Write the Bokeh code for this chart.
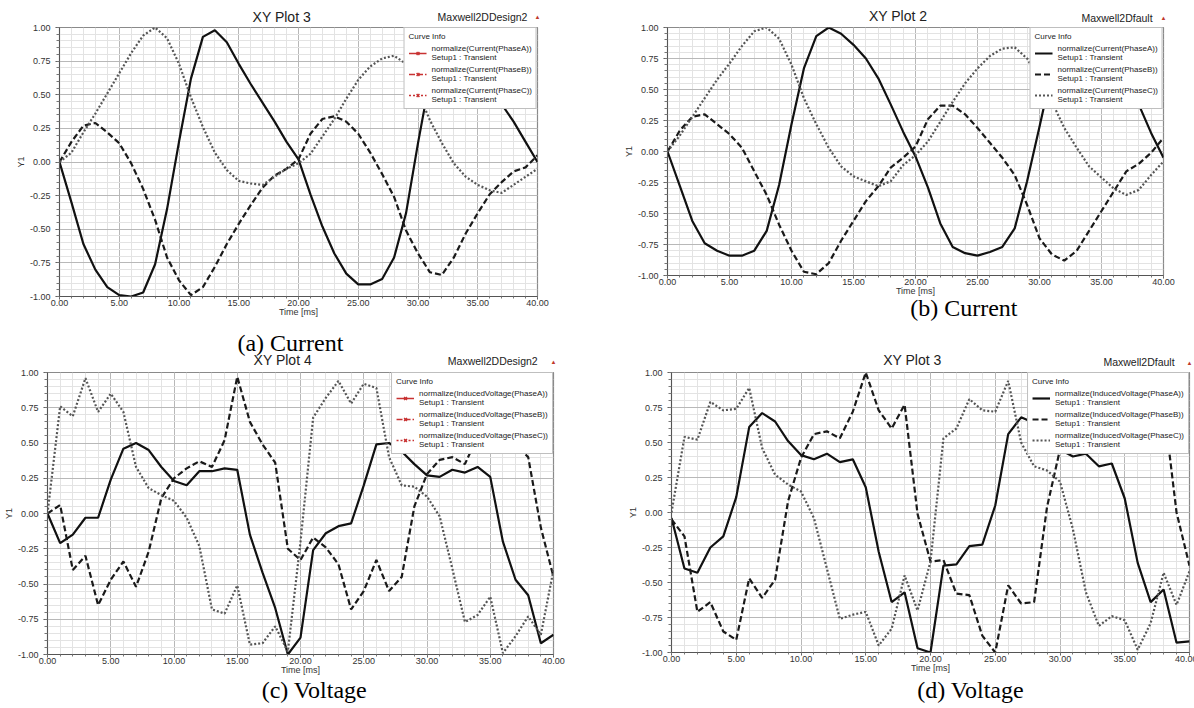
from bokeh.plotting import figure
from bokeh.layouts import column, row
from bokeh.models import (Range1d, FixedTicker, NumeralTickFormatter, Legend,
                          LegendItem, LinearAxis)
from bokeh.embed import file_html
from bokeh.resources import INLINE

# ---------------- data ----------------
time_ms = list(range(41))

# (a) Current - Maxwell2DDesign2
cur_a_A = [0.00, -0.30, -0.61, -0.80, -0.93, -0.99, -1.00, -0.97, -0.76, -0.35, 0.15, 0.62, 0.93, 0.98, 0.89, 0.73,
           0.58, 0.44, 0.30, 0.15, 0.02, -0.24, -0.48, -0.68, -0.83, -0.91, -0.91, -0.87, -0.71, -0.38, 0.14, 0.62,
           0.88, 0.97, 0.90, 0.75, 0.60, 0.43, 0.30, 0.15, 0.00]
cur_a_B = [0.00, 0.15, 0.27, 0.29, 0.22, 0.14, -0.01, -0.20, -0.43, -0.71, -0.88, -0.99, -0.93, -0.78, -0.61, -0.46,
           -0.32, -0.19, -0.10, -0.05, 0.02, 0.21, 0.32, 0.34, 0.30, 0.21, 0.07, -0.09, -0.26, -0.51, -0.68, -0.82,
           -0.84, -0.71, -0.53, -0.38, -0.24, -0.15, -0.07, -0.04, 0.05]
cur_a_C = [0.00, 0.07, 0.22, 0.36, 0.51, 0.66, 0.81, 0.94, 1.00, 0.92, 0.73, 0.48, 0.26, 0.07, -0.06, -0.14,
           -0.16, -0.17, -0.11, -0.05, -0.01, 0.06, 0.19, 0.32, 0.47, 0.61, 0.71, 0.77, 0.79, 0.73, 0.52, 0.31,
           0.14, -0.01, -0.11, -0.17, -0.21, -0.23, -0.17, -0.11, -0.05]

# (b) Current - Maxwell2Dfault
cur_b_A = [0.00, -0.28, -0.56, -0.74, -0.80, -0.84, -0.84, -0.80, -0.64, -0.27, 0.22, 0.67, 0.93, 1.00, 0.95, 0.86,
           0.75, 0.59, 0.38, 0.16, -0.04, -0.29, -0.58, -0.77, -0.82, -0.84, -0.81, -0.77, -0.62, -0.24, 0.20, 0.65,
           0.90, 0.98, 0.93, 0.83, 0.70, 0.57, 0.38, 0.15, -0.05]
cur_b_B = [0.00, 0.17, 0.28, 0.30, 0.22, 0.14, 0.03, -0.16, -0.35, -0.59, -0.80, -0.97, -0.99, -0.90, -0.72, -0.56,
           -0.40, -0.28, -0.13, -0.05, 0.04, 0.26, 0.37, 0.37, 0.30, 0.19, 0.07, -0.05, -0.19, -0.43, -0.70, -0.83,
           -0.88, -0.80, -0.64, -0.48, -0.32, -0.16, -0.10, -0.01, 0.11]
cur_b_C = [0.00, 0.13, 0.28, 0.43, 0.58, 0.71, 0.85, 0.97, 1.00, 0.91, 0.70, 0.43, 0.22, 0.03, -0.12, -0.20,
           -0.24, -0.28, -0.24, -0.11, -0.03, 0.08, 0.24, 0.40, 0.55, 0.67, 0.77, 0.83, 0.84, 0.75, 0.58, 0.40,
           0.19, 0.03, -0.12, -0.21, -0.30, -0.35, -0.31, -0.19, -0.08]

# (c) Voltage - Maxwell2DDesign2
vol_c_A = [0.00, -0.21, -0.15, -0.03, -0.03, 0.24, 0.46, 0.50, 0.45, 0.33, 0.23, 0.20, 0.30, 0.30, 0.32, 0.31,
           -0.15, -0.42, -0.67, -1.00, -0.88, -0.26, -0.14, -0.09, -0.07, 0.20, 0.49, 0.50, 0.44, 0.35, 0.27, 0.26,
           0.31, 0.29, 0.33, 0.26, -0.20, -0.47, -0.58, -0.92, -0.86]
vol_c_B = [0.00, 0.06, -0.40, -0.30, -0.65, -0.47, -0.34, -0.52, -0.27, 0.11, 0.25, 0.32, 0.37, 0.33, 0.52, 0.97,
           0.65, 0.49, 0.36, -0.25, -0.33, -0.17, -0.24, -0.36, -0.68, -0.55, -0.33, -0.55, -0.45, 0.05, 0.28, 0.38,
           0.40, 0.35, 0.55, 0.97, 0.65, 0.49, 0.40, -0.10, -0.45]
vol_c_C = [0.00, 0.76, 0.69, 0.96, 0.72, 0.85, 0.72, 0.33, 0.18, 0.13, 0.09, -0.03, -0.23, -0.68, -0.71, -0.51,
           -0.93, -0.92, -0.80, -0.98, -0.20, 0.68, 0.82, 0.94, 0.78, 0.92, 0.89, 0.40, 0.20, 0.19, 0.12, -0.02,
           -0.39, -0.77, -0.72, -0.59, -0.99, -0.87, -0.73, -0.86, -0.40]

# (d) Voltage - Maxwell2Dfault
vol_d_A = [-0.04, -0.40, -0.43, -0.25, -0.17, 0.11, 0.61, 0.71, 0.65, 0.51, 0.41, 0.38, 0.42, 0.36, 0.38, 0.18,
           -0.28, -0.64, -0.57, -0.97, -1.00, -0.38, -0.37, -0.24, -0.23, 0.05, 0.56, 0.68, 0.64, 0.52, 0.45, 0.40,
           0.42, 0.33, 0.35, 0.10, -0.36, -0.64, -0.55, -0.93, -0.92]
vol_d_B = [-0.05, -0.17, -0.71, -0.64, -0.85, -0.91, -0.47, -0.61, -0.48, 0.08, 0.39, 0.56, 0.58, 0.53, 0.72, 1.00,
           0.73, 0.60, 0.77, -0.01, -0.35, -0.34, -0.58, -0.59, -0.88, -1.00, -0.52, -0.65, -0.64, 0.04, 0.45, 0.56,
           0.58, 0.53, 0.72, 1.00, 0.73, 0.60, 0.77, 0.00, -0.38]
vol_d_C = [0.00, 0.54, 0.52, 0.79, 0.73, 0.74, 0.89, 0.46, 0.27, 0.20, 0.15, -0.04, -0.40, -0.76, -0.73, -0.71,
           -0.95, -0.83, -0.45, -0.70, -0.35, 0.53, 0.60, 0.81, 0.73, 0.72, 0.94, 0.50, 0.33, 0.30, 0.22, -0.12,
           -0.57, -0.81, -0.74, -0.77, -0.98, -0.79, -0.43, -0.66, -0.42]

x_major = [0, 5, 10, 15, 20, 25, 30, 35, 40]
x_minor = list(range(0, 41))
y_major = [-1.0, -0.75, -0.5, -0.25, 0.0, 0.25, 0.5, 0.75, 1.0]
y_minor = [round(-1.0 + 0.05 * i, 2) for i in range(41)]

cur_labels = ["normalize(Current(PhaseA))", "normalize(Current(PhaseB))", "normalize(Current(PhaseC))"]
vol_labels = ["normalize(InducedVoltage(PhaseA))", "normalize(InducedVoltage(PhaseB))",
              "normalize(InducedVoltage(PhaseC))"]
setup_text = "Setup1 : Transient"

SANS = "Liberation Sans"
SERIF = "Liberation Serif"
LOGO = "\u25b2"


def text_axis(p, side, pos, text, font, size, color, standoff):
    """A bare axis carrying a single text label (titles / captions outside the frame)."""
    ax = LinearAxis(ticker=FixedTicker(ticks=[pos]), major_label_overrides={pos: text})
    ax.axis_line_color = None
    ax.major_tick_line_color = None
    ax.minor_tick_line_color = None
    ax.major_tick_out = 0
    ax.major_tick_in = 0
    ax.minor_tick_out = 0
    ax.minor_tick_in = 0
    ax.major_label_standoff = standoff
    ax.major_label_text_font = font
    ax.major_label_text_font_size = size
    ax.major_label_text_color = color
    p.add_layout(ax, side)


def make_panel(w, h, fl, ft, fw, fh, A, B, C, labels, red_legend, above, below):
    p = figure(frame_width=fw, frame_height=fh,
               min_border_left=fl, min_border_top=ft,
               min_border_right=w - fl - fw, min_border_bottom=h - ft - fh,
               x_range=Range1d(0, 40), y_range=Range1d(-1, 1),
               output_backend="svg", toolbar_location=None, title=None)
    p.background_fill_color = "white"
    p.border_fill_color = "white"
    p.outline_line_color = "#8a8a8a"
    p.outline_line_width = 1.2

    xa = p.below[0]
    ya = p.left[0]
    xa.ticker = FixedTicker(ticks=x_major, minor_ticks=x_minor)
    ya.ticker = FixedTicker(ticks=y_major, minor_ticks=y_minor)
    xa.formatter = NumeralTickFormatter(format="0.00")
    ya.formatter = NumeralTickFormatter(format="0.00")
    xa.axis_label = "Time [ms]"
    ya.axis_label = "Y1"
    for ax in (xa, ya):
        ax.major_label_text_font = SANS
        ax.major_label_text_font_size = "9px"
        ax.major_label_text_color = "#333333"
        ax.axis_label_text_font = SANS
        ax.axis_label_text_font_size = "9px"
        ax.axis_label_text_font_style = "normal"
        ax.axis_label_text_color = "#333333"
        ax.axis_line_color = "#555555"
        ax.major_tick_line_color = "#555555"
        ax.minor_tick_line_color = "#777777"
        ax.major_tick_in = 0
        ax.minor_tick_in = 0
    xa.major_tick_out = 3
    xa.minor_tick_out = 2
    xa.major_label_standoff = 0
    xa.axis_label_standoff = -2
    ya.major_tick_out = 4
    ya.minor_tick_out = 3
    ya.major_label_standoff = 5
    ya.axis_label_standoff = 1

    for g in (p.xgrid[0], p.ygrid[0]):
        g.grid_line_color = "#b8b8b8"
        g.grid_line_width = 1
        g.minor_grid_line_color = "#e3e3e3"
        g.minor_grid_line_width = 1

    rA = p.line(time_ms, A, line_color="#111111", line_width=2.2)
    rB = p.line(time_ms, B, line_color="#1a1a1a", line_width=2.2, line_dash="6 3")
    rC = p.line(time_ms, C, line_color="#555555", line_width=2.2, line_dash="2 2")

    items = []
    if red_legend:
        # the original legend swatches are red line+cross symbols: hidden renderers of the same data
        for lab, dash, vals in zip(labels, ["solid", "6 2", "2 2"], [A, B, C]):
            lr = p.line(time_ms, vals, line_color="#c83232", line_width=1.5, line_dash=dash, visible=False)
            sr = p.scatter(time_ms, vals, marker="x", size=6, line_color="#c83232",
                           line_width=1.5, visible=False)
            items.append(LegendItem(label=lab + "\n" + setup_text, renderers=[lr, sr]))
    else:
        for lab, r in zip(labels, [rA, rB, rC]):
            items.append(LegendItem(label=lab + "\n" + setup_text, renderers=[r]))

    legend = Legend(items=items, location="top_right", title="Curve Info")
    legend.title_text_font = SANS
    legend.title_text_font_size = "8px"
    legend.title_text_font_style = "normal"
    legend.title_text_color = "#222222"
    legend.title_standoff = 3
    legend.label_text_font = SANS
    legend.label_text_font_size = "8px"
    legend.label_text_color = "#222222"
    legend.label_standoff = 5
    legend.glyph_width = 18
    legend.glyph_height = 10
    legend.label_height = 10
    legend.padding = 4
    legend.spacing = 3
    legend.margin = 0
    legend.border_line_color = "#808080"
    legend.border_line_width = 1
    legend.background_fill_color = "white"
    legend.background_fill_alpha = 1.0
    legend.inactive_fill_alpha = 0.0
    p.add_layout(legend)

    for item in above:          # listed from the frame outward
        text_axis(p, "above", *item)
    for item in below:
        text_axis(p, "below", *item)
    return p


# top row
pa = make_panel(590, 326, 59, 27, 478, 269, cur_a_A, cur_a_B, cur_a_C, cur_labels, True,
                above=[(40, LOGO, SANS, "6px", "#c0392b", 8),
                       (35.4, "Maxwell2DDesign2", SANS, "10.5px", "#222222", -12),
                       (18.6, "XY Plot 3", SANS, "14px", "#222222", -17)],
                below=[])
pb = make_panel(604, 326, 77, 26, 496, 248, cur_b_A, cur_b_B, cur_b_C, cur_labels, False,
                above=[(40, LOGO, SANS, "6px", "#c0392b", 7),
                       (36.25, "Maxwell2Dfault", SANS, "10.5px", "#222222", -12),
                       (18.6, "XY Plot 2", SANS, "14px", "#222222", -15)],
                below=[(23.9, "(b) Current", SERIF, "24px", "#000000", -4)])

# bottom row; the caption of (a) sits in the band above (c)
pc = make_panel(590, 382, 44, 45, 506, 282, vol_c_A, vol_c_B, vol_c_C, vol_labels, True,
                above=[(40, LOGO, SANS, "6px", "#c0392b", 8),
                       (35.2, "Maxwell2DDesign2", SANS, "10.5px", "#222222", -11),
                       (18.6, "XY Plot 4", SANS, "14px", "#222222", -16),
                       (19.2, "(a) Current", SERIF, "24px", "#000000", -7)],
                below=[(21.1, "(c) Voltage", SERIF, "24px", "#000000", -1)])
pd = make_panel(604, 382, 78, 45, 518, 280, vol_d_A, vol_d_B, vol_d_C, vol_labels, False,
                above=[(40, LOGO, SANS, "6px", "#c0392b", 7),
                       (36.1, "Maxwell2Dfault", SANS, "10.5px", "#222222", -11),
                       (18.6, "XY Plot 3", SANS, "14px", "#222222", -15)],
                below=[(23.1, "(d) Voltage", SERIF, "24px", "#000000", 1)])

layout = column(row(pa, pb, spacing=0), row(pc, pd, spacing=0), spacing=0)

open("out.html", "w").write(file_html(layout, INLINE))
